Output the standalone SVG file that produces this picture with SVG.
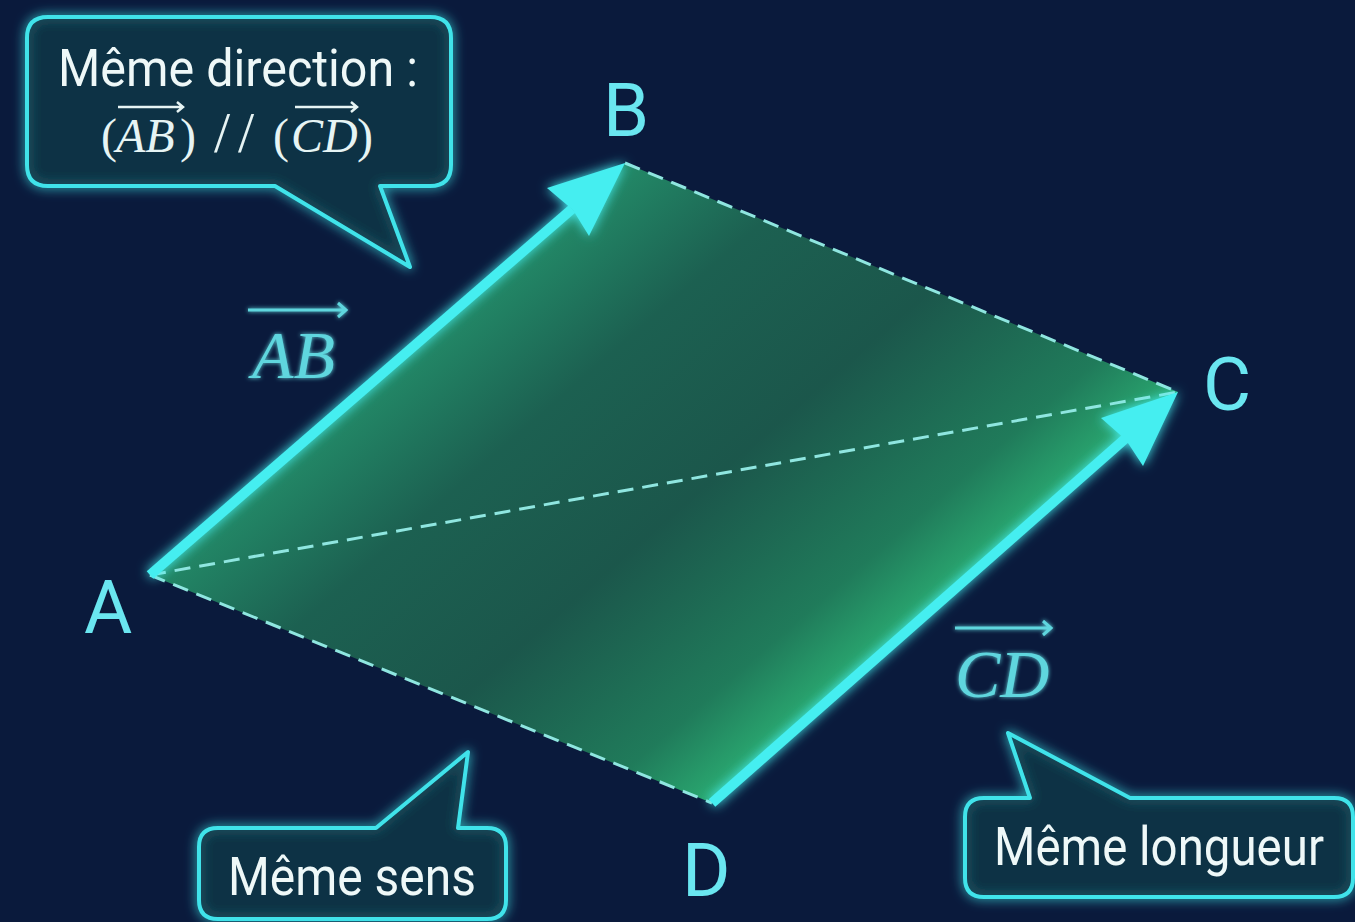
<svg xmlns="http://www.w3.org/2000/svg" width="1355" height="922" viewBox="0 0 1355 922">
<defs>
<style>
.bg{fill:#0a1a3c}
.box{fill:#0f3345;fill-opacity:0.85;stroke:#3fe3ea;stroke-width:4;stroke-linejoin:round}
.txt{font-family:Roboto,"Liberation Sans",sans-serif;fill:#eef8f8;text-anchor:start}
.pt{font-family:Roboto,"Liberation Sans",sans-serif;fill:#6ae6f0;font-size:74px}
.vec{font-family:"Liberation Serif",serif;font-style:italic;fill:#5fd6de}
.vecw{font-family:"Liberation Serif",serif;fill:#e6f4f4}
.arrow{stroke:#45eef0;stroke-width:10;fill:none;stroke-linecap:butt}
.head{fill:#45eef0}
.dash{stroke:#8fe6e0;stroke-width:3;fill:none;stroke-dasharray:16 9}
.ov{stroke:#5fd6de;stroke-width:3;fill:none}
.ovw{stroke:#e6f4f4;stroke-width:2.5;fill:none}
</style>
<filter id="glow" filterUnits="userSpaceOnUse" x="0" y="0" width="1355" height="922">
<feGaussianBlur stdDeviation="6" result="b"/>
<feMerge><feMergeNode in="b"/><feMergeNode in="SourceGraphic"/></feMerge>
</filter>
<filter id="soft" filterUnits="userSpaceOnUse" x="0" y="0" width="1355" height="922">
<feGaussianBlur stdDeviation="2" result="b"/>
<feMerge><feMergeNode in="b"/><feMergeNode in="SourceGraphic"/></feMerge>
</filter>
<linearGradient id="fillg" gradientUnits="userSpaceOnUse" x1="387" y1="369" x2="741" y2="777">
<stop offset="0" stop-color="#24906a"/>
<stop offset="0.25" stop-color="#1d6452"/>
<stop offset="0.55" stop-color="#1c5a4c"/>
<stop offset="0.85" stop-color="#21805c"/>
<stop offset="1" stop-color="#2cb274"/>
</linearGradient>
</defs>
<rect class="bg" x="0" y="0" width="1355" height="922"/>

<g id="parallelogram">
<polygon points="150,575 625,163 1178,392 712,803" fill="url(#fillg)" fill-opacity="0.95"/>
</g>

<g id="connectors">
<line class="dash" x1="625" y1="163" x2="1178" y2="392"/>
<line class="dash" x1="150" y1="575" x2="712" y2="803"/>
<line class="dash" x1="150" y1="575" x2="1178" y2="392"/>
<g filter="url(#glow)">
<line class="arrow" x1="150" y1="575" x2="572" y2="209"/>
<polygon class="head" points="625,163 589,236 573,210 547,188"/>
<line class="arrow" x1="712" y1="803" x2="1126" y2="438"/>
<polygon class="head" points="1178,392 1143,466 1126,440 1101,418"/>
</g>
</g>

<g id="point-A"><text class="pt" x="84" y="633">A</text></g>
<g id="point-B"><text class="pt" x="603" y="136">B</text></g>
<g id="point-C"><text class="pt" x="1203" y="410">C</text></g>
<g id="point-D"><text class="pt" x="682" y="896">D</text></g>

<g id="label-AB" filter="url(#soft)">
<text class="vec" x="252" y="378" font-size="68">AB</text>
<path class="ov" d="M248,310 H346 M338,303 L346,310 L338,317"/>
</g>
<g id="label-CD" filter="url(#soft)">
<text class="vec" x="955" y="697" font-size="68">CD</text>
<path class="ov" d="M955,628 H1051 M1043,621 L1051,628 L1043,635"/>
</g>

<g id="callout-direction">
<path class="box" filter="url(#glow)" d="M48,17 H430 Q451,17 451,38 V165 Q451,186 430,186 H380 L410,267 L275,186 H48 Q27,186 27,165 V38 Q27,17 48,17 Z"/>
<text class="txt" x="58" y="86" font-size="52" textLength="360" lengthAdjust="spacingAndGlyphs">Même direction :</text>
<text class="vecw" y="152" font-size="48"><tspan x="101">(</tspan><tspan x="116" font-style="italic">AB</tspan><tspan x="180">)</tspan><tspan x="214" font-size="58">/</tspan><tspan x="238" font-size="58">/</tspan><tspan x="273">(</tspan><tspan x="291" font-style="italic">CD</tspan><tspan x="357">)</tspan></text>
<path class="ovw" d="M118,107 H183 M177,102 L183,107 L177,112"/>
<path class="ovw" d="M295,107 H357 M351,102 L357,107 L351,112"/>
</g>

<g id="callout-sens">
<path class="box" filter="url(#glow)" d="M218,828 H376 L468,752 L458,828 H487 Q506,828 506,847 V900 Q506,919 487,919 H218 Q199,919 199,900 V847 Q199,828 218,828 Z"/>
<text class="txt" x="228" y="895" font-size="54" textLength="248" lengthAdjust="spacingAndGlyphs">Même sens</text>
</g>

<g id="callout-longueur">
<path class="box" filter="url(#glow)" d="M984,798 H1030 L1008,733 L1130,798 H1334 Q1353,798 1353,817 V878 Q1353,897 1334,897 H984 Q965,897 965,878 V817 Q965,798 984,798 Z"/>
<text class="txt" x="994" y="865" font-size="54" textLength="330" lengthAdjust="spacingAndGlyphs">Même longueur</text>
</g>
</svg>
